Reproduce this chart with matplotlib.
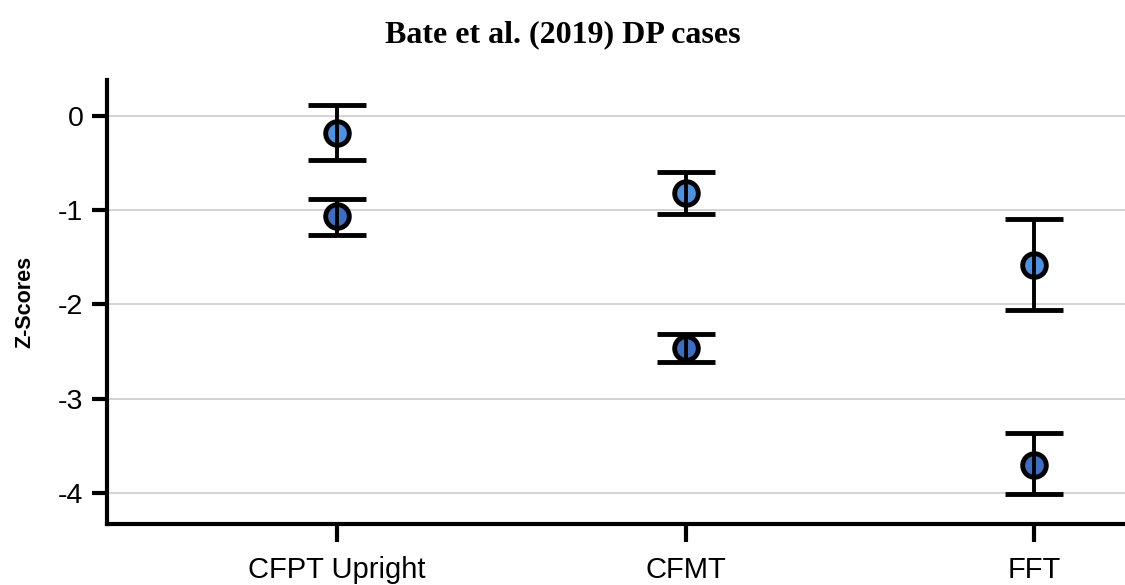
import matplotlib
matplotlib.use("Agg")
import matplotlib.pyplot as plt
import numpy as np

categories = ['CFPT Upright', 'CFMT', 'FFT']
case1_mean = [-0.18, -0.82, -1.58]
case1_low = [-0.47, -1.04, -2.06]
case1_high = [0.11, -0.60, -1.09]
case2_mean = [-1.06, -2.46, -3.70]
case2_low = [-1.26, -2.61, -4.01]
case2_high = [-0.88, -2.31, -3.36]
yticks = [0, -1, -2, -3, -4]

fig = plt.figure(figsize=(11.25, 5.85), dpi=100)
ax = fig.add_axes([107/1125, 1-524/585, 1-107/1125, (524-80)/585])

x = np.arange(len(categories))
for mean, lo, hi, col in [(case1_mean, case1_low, case1_high, '#4d92e0'),
                          (case2_mean, case2_low, case2_high, '#3c6fc4')]:
    mean = np.array(mean); lo = np.array(lo); hi = np.array(hi)
    ax.plot(x, mean, 'o', ms=17, mfc=col, mec='black', mew=3.5, zorder=3)
    ax.errorbar(x, mean, yerr=[mean - lo, hi - mean], fmt='none', ecolor='black',
                elinewidth=2.8, capsize=21, capthick=3.5, zorder=4)

ax.set_xlim(-0.66, 2.26)
ax.set_ylim(-4.33, 0.38)
ax.set_yticks(yticks)
ax.set_yticklabels([str(v) for v in yticks])
ax.set_xticks(x)
ax.set_xticklabels(categories)
ax.yaxis.grid(True, color='#cccccc', linewidth=1.2)
ax.set_axisbelow(True)
for s in ['top', 'right']:
    ax.spines[s].set_visible(False)
for s in ['left', 'bottom']:
    ax.spines[s].set_linewidth(3)
ax.tick_params(axis='y', length=11, width=3, pad=6)
ax.tick_params(axis='x', length=13, width=3, pad=10)
for lab in ax.get_xticklabels() + ax.get_yticklabels():
    lab.set_fontfamily('Liberation Sans')
for lab in ax.get_xticklabels():
    lab.set_fontsize(21)
for lab in ax.get_yticklabels():
    lab.set_fontsize(20.5)
ax.set_ylabel('Z-Scores', fontfamily='Liberation Sans', fontsize=15.5, fontweight='bold', labelpad=16)
fig.text(0.5, 1-35/585, 'Bate et al. (2019) DP cases', ha='center', va='center',
         fontfamily='Liberation Serif', fontweight='bold', fontsize=23)

fig.savefig('out.png', dpi=100)
